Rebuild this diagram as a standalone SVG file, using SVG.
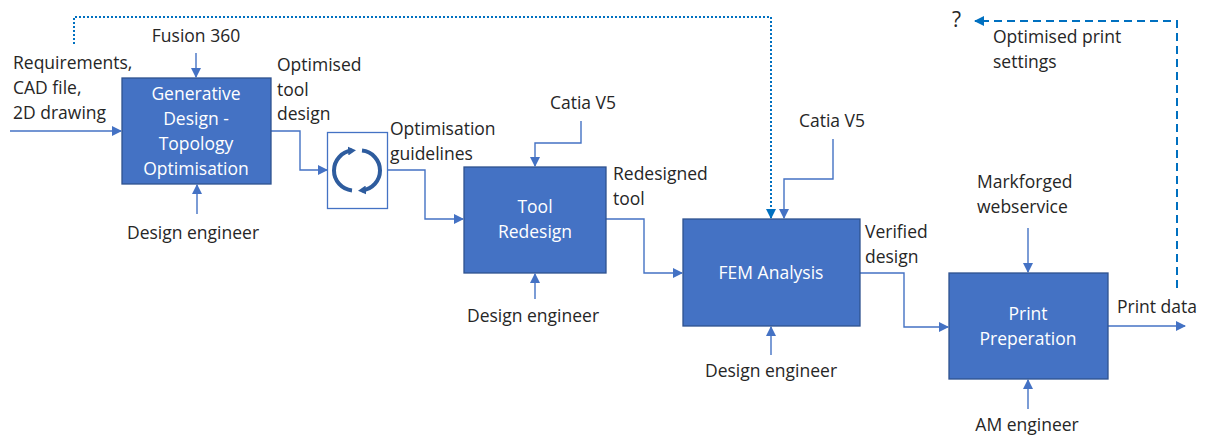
<svg xmlns="http://www.w3.org/2000/svg" width="1207" height="437" viewBox="0 0 1207 437">
<style>
text{font-family:"Open Sans","Noto Sans","Liberation Sans",sans-serif;font-size:17.5px;fill:#262626}
.c{text-anchor:middle}
.w{fill:#ffffff}
.q{font-size:21px}
.box{fill:#4472C4;stroke:#2F528F;stroke-width:1.3}
.ln{fill:none;stroke:#4472C4;stroke-width:1.4}
.dot{fill:none;stroke:#0070C0;stroke-width:2;stroke-dasharray:2 2}
.dash{fill:none;stroke:#0070C0;stroke-width:2;stroke-dasharray:8 5}
.cyc{fill:none;stroke:#2E5C9E;stroke-width:4}
</style>
<defs>
<marker id="a" markerWidth="10" markerHeight="10" refX="9" refY="5" orient="auto" markerUnits="userSpaceOnUse"><path d="M0,0 L10,5 L0,10 z" fill="#4472C4"/></marker>
<marker id="b" markerWidth="10" markerHeight="10" refX="9" refY="5" orient="auto" markerUnits="userSpaceOnUse"><path d="M0,0 L10,5 L0,10 z" fill="#0070C0"/></marker>
<marker id="cy" markerWidth="8" markerHeight="9" refX="4" refY="4.5" orient="auto" markerUnits="userSpaceOnUse"><path d="M0,0 L8,4.5 L0,9 z" fill="#2E5C9E"/></marker>
</defs>

<g id="connectors">
<path class="ln" d="M10,131 H121" marker-end="url(#a)"/>
<path class="ln" d="M196,53 V77" marker-end="url(#a)"/>
<path class="ln" d="M197,214 V185" marker-end="url(#a)"/>
<path class="ln" d="M271,131 H300 V170 H327" marker-end="url(#a)"/>
<path class="ln" d="M388,170 H425 V219 H463" marker-end="url(#a)"/>
<path class="ln" d="M581,121 V143 H535 V166" marker-end="url(#a)"/>
<path class="ln" d="M535,299 V274" marker-end="url(#a)"/>
<path class="ln" d="M606,219 H644 V273 H682" marker-end="url(#a)"/>
<path class="ln" d="M833,139 V179 H784 V218" marker-end="url(#a)"/>
<path class="ln" d="M771,355 V327" marker-end="url(#a)"/>
<path class="ln" d="M860,273 H904 V327 H948" marker-end="url(#a)"/>
<path class="ln" d="M1028,228 V272" marker-end="url(#a)"/>
<path class="ln" d="M1028,409 V380" marker-end="url(#a)"/>
<path class="ln" d="M1108,326 H1185" marker-end="url(#a)"/>
<path class="dot" d="M74,44 V17 H771 V218" marker-end="url(#b)"/>
<path class="dash" d="M1177,288 V21 H975" marker-end="url(#b)"/>
</g>

<g id="inputs-labels">
<text x="13" y="69">Requirements,</text>
<text x="13" y="94">CAD file,</text>
<text x="13" y="119">2D drawing</text>
<text class="c" x="196" y="42">Fusion 360</text>
<text class="c" x="193" y="239">Design engineer</text>
<text x="277" y="71">Optimised</text>
<text x="277" y="96">tool</text>
<text x="277" y="120">design</text>
<text x="390" y="135">Optimisation</text>
<text x="390" y="160">guidelines</text>
<text class="c" x="583" y="109">Catia V5</text>
<text x="613" y="180">Redesigned</text>
<text x="613" y="205">tool</text>
<text class="c" x="533" y="322">Design engineer</text>
<text class="c" x="832" y="127">Catia V5</text>
<text x="865" y="238">Verified</text>
<text x="865" y="263">design</text>
<text class="c" x="771" y="377">Design engineer</text>
<text x="977" y="188">Markforged</text>
<text x="977" y="213">webservice</text>
<text x="1117" y="313">Print data</text>
<text class="c" x="1027" y="431">AM engineer</text>
<text class="q" x="952" y="27">?</text>
<text x="993" y="43">Optimised print</text>
<text x="993" y="68">settings</text>
</g>

<g id="node-generative">
<rect class="box" x="122" y="78" width="149" height="106"/>
<text class="c w" x="196" y="100">Generative</text>
<text class="c w" x="196" y="125">Design -</text>
<text class="c w" x="196" y="150">Topology</text>
<text class="c w" x="196" y="175">Optimisation</text>
</g>

<g id="node-cycle">
<rect x="327.5" y="132.5" width="60" height="76" fill="#ffffff" stroke="#4472C4" stroke-width="1.3"/>
<path class="cyc" d="M352,190.4 A20,20 0 0 1 352,150.6" marker-end="url(#cy)"/>
<path class="cyc" d="M362,150.6 A20,20 0 0 1 362,190.4" marker-end="url(#cy)"/>
</g>

<g id="node-tool-redesign">
<rect class="box" x="464" y="167" width="142" height="106"/>
<text class="c w" x="535" y="213">Tool</text>
<text class="c w" x="535" y="238">Redesign</text>
</g>

<g id="node-fem">
<rect class="box" x="683" y="219" width="177" height="107"/>
<text class="c w" x="771" y="279">FEM Analysis</text>
</g>

<g id="node-print">
<rect class="box" x="949" y="273" width="159" height="106"/>
<text class="c w" x="1028" y="320">Print</text>
<text class="c w" x="1028" y="345">Preperation</text>
</g>
</svg>
